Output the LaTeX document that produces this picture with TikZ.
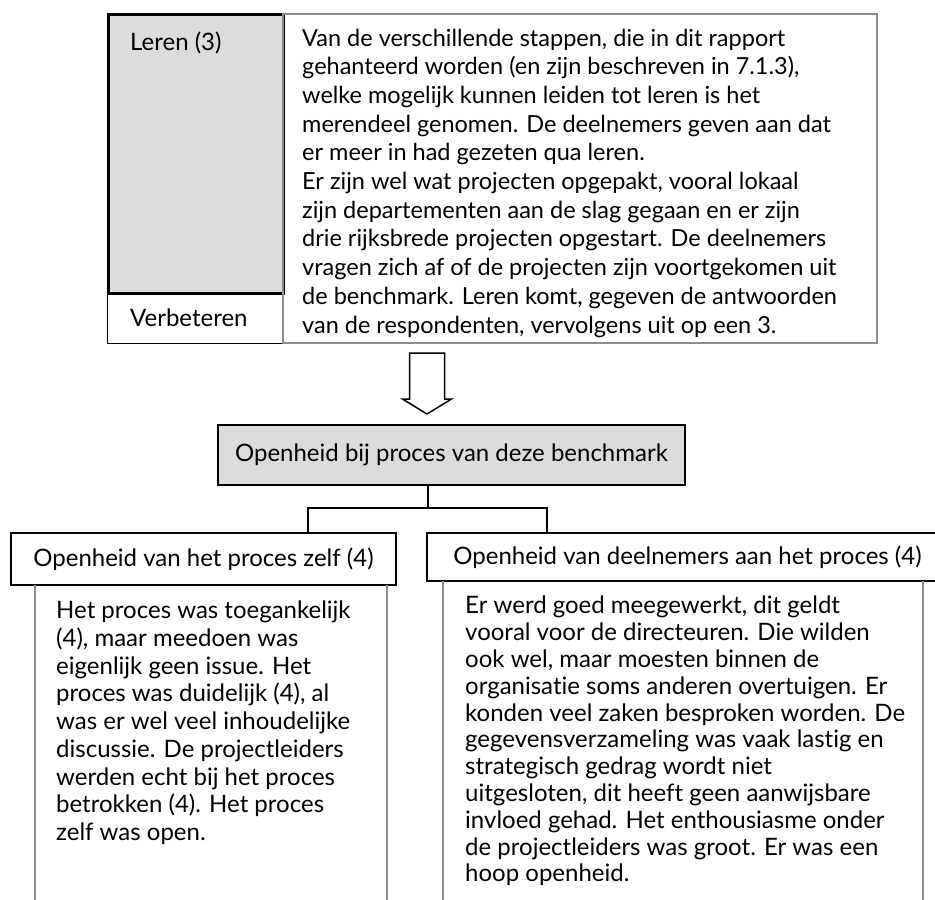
\documentclass[tikz,border=0pt]{standalone}
\usepackage{fontspec}
\setmainfont{Lato}[Ligatures=NoCommon]
\usepackage{tikz}
\usetikzlibrary{positioning}
\definecolor{vulgrijs}{HTML}{DCDCDC}
\definecolor{randgrijs}{HTML}{8C8C8C}

\begin{document}
\begin{tikzpicture}[x=1pt, y=-1pt,
    every node/.style={font=\fontsize{24}{28.7}\selectfont, inner sep=0pt},
    kopbox/.style={draw, line width=2.8pt, fill=white},
    tekst/.style={anchor=north west, align=left},
    lijn/.style={line width=1.5pt}]
    \useasboundingbox (0,0) rectangle (935,900);
    \clip (0,0) rectangle (935,900);

    % Leren en toelichting
    \node[draw, line width=2.5pt, fill=vulgrijs, anchor=north west, minimum width=175pt, minimum height=279pt] (leren) at (107,13) {};
    \node[draw, line width=1.3pt, anchor=north west, minimum width=175pt, minimum height=51pt] (verbeteren) at (107,292) {};
    \node[anchor=west] (lerentekst) at (130,43) {Leren (3)};
    \node[anchor=west] (verbeterentekst) at (130,318) {Verbeteren};
    \node[draw=randgrijs, line width=1.5pt, anchor=north west, minimum width=594pt, minimum height=329pt] (toelichting) at (282,13) {};
    \node[tekst, font=\fontsize{23.5}{28.7}\selectfont] (toelichtingtekst) at (302,28.5) {Van de verschillende stappen, die in dit rapport\\
        gehanteerd worden (en zijn beschreven in 7.1.3),\\
        welke mogelijk kunnen leiden tot leren is het\\
        merendeel genomen. De deelnemers geven aan dat\\
        er meer in had gezeten qua leren.\\
        Er zijn wel wat projecten opgepakt, vooral lokaal\\
        zijn departementen aan de slag gegaan en er zijn\\
        drie rijksbrede projecten opgestart. De deelnemers\\
        vragen zich af of de projecten zijn voortgekomen uit\\
        de benchmark. Leren komt, gegeven de antwoorden\\
        van de respondenten, vervolgens uit op een 3.};

    % Pijl
    \coordinate (pijlpunt) at (427,414);
    \draw[lijn, fill=white] (pijlpunt) -- ++(-24.5,-15) -- ++(7,0) -- ++(0,-46) -- ++(35,0) -- ++(0,46) -- ++(7,0) -- cycle;

    % Openheid
    \node[kopbox, fill=vulgrijs, minimum width=467pt, minimum height=60pt] (proces) at (451.5,455) {Openheid bij proces van deze benchmark};
    \node[kopbox, minimum width=385pt, minimum height=52pt] (zelf) at (203.5,559) {Openheid van het proces zelf (4)};
    \node[kopbox, minimum width=521pt, minimum height=48pt] (deelnemers) at (687.5,557) {Openheid van deelnemers aan het proces (4)};

    \coordinate (tak) at (428,508);
    \coordinate (takL) at (308,508);
    \coordinate (takR) at (547,508);
    \draw[lijn] (proces.south -| tak) -- (tak);
    \draw[lijn] (zelf.north -| takL) -- (takL) -- (takR) -- (deelnemers.north -| takR);

    % Toelichting per onderdeel
    \draw[draw=randgrijs, lijn] (35,585) -- (35,905);
    \draw[draw=randgrijs, lijn] (387,585) -- (387,905);
    \draw[draw=randgrijs, lijn] (443,581) -- (443,905);
    \draw[draw=randgrijs, lijn] (923,581) -- (923,905);
    \node[tekst, font=\fontsize{24}{27.7}\selectfont] (zelftekst) at (56,601) {Het proces was toegankelijk\\
        (4), maar meedoen was\\
        eigenlijk geen issue. Het\\
        proces was duidelijk (4), al\\
        was er wel veel inhoudelijke\\
        discussie. De projectleiders\\
        werden echt bij het proces\\
        betrokken (4). Het proces\\
        zelf was open.};
    \node[tekst, font=\fontsize{24}{26.8}\selectfont] (deelnemerstekst) at (465,596) {Er werd goed meegewerkt, dit geldt\\
        vooral voor de directeuren. Die wilden\\
        ook wel, maar moesten binnen de\\
        organisatie soms anderen overtuigen. Er\\
        konden veel zaken besproken worden. De\\
        gegevensverzameling was vaak lastig en\\
        strategisch gedrag wordt niet\\
        uitgesloten, dit heeft geen aanwijsbare\\
        invloed gehad. Het enthousiasme onder\\
        de projectleiders was groot. Er was een\\
        hoop openheid.};
\end{tikzpicture}
\end{document}
